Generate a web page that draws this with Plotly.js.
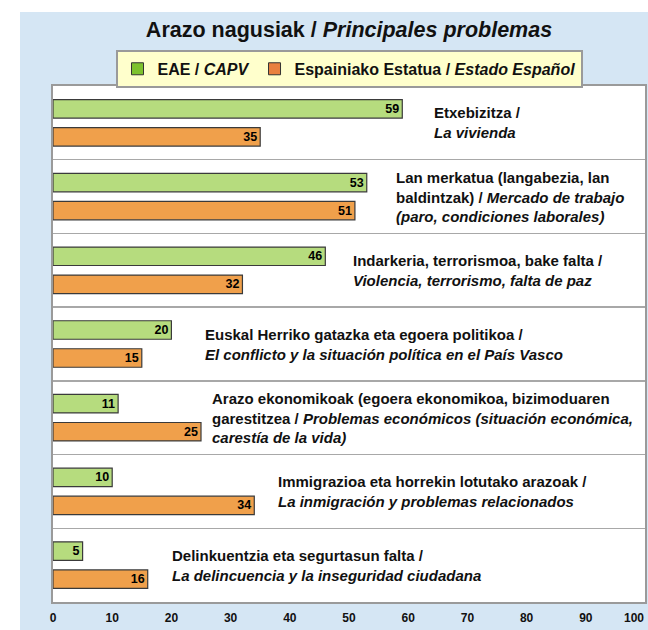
<!DOCTYPE html>
<html>
<head>
<meta charset="utf-8">
<script src="https://cdn.plot.ly/plotly-3.0.1.min.js"></script>
<style>
  html, body { margin: 0; padding: 0; background: #ffffff; }
  #chart { position: absolute; left: 20px; top: 12px; width: 628px; height: 618px; }
</style>
</head>
<body>
<div id="chart"></div>
<script>
// ---- data ----
const categories = [
  "Etxebizitza /<br><i>La vivienda</i>",
  "Lan merkatua (langabezia, lan<br>baldintzak) / <i>Mercado de trabajo</i><br><i>(paro, condiciones laborales)</i>",
  "Indarkeria, terrorismoa, bake falta /<br><i>Violencia, terrorismo, falta de paz</i>",
  "Euskal Herriko gatazka eta egoera politikoa /<br><i>El conflicto y la situación política en el País Vasco</i>",
  "Arazo ekonomikoak (egoera ekonomikoa, bizimoduaren<br>garestitzea / <i>Problemas económicos (situación económica,</i><br><i>carestía de la vida)</i>",
  "Immigrazioa eta horrekin lotutako arazoak /<br><i>La inmigración y problemas relacionados</i>",
  "Delinkuentzia eta segurtasun falta /<br><i>La delincuencia y la inseguridad ciudadana</i>"
];
const eaeValues    = [59, 53, 46, 20, 11, 10, 5];
const estadoValues = [35, 51, 32, 15, 25, 34, 16];
const seriesNames  = ["EAE / <i>CAPV</i>", "Espainiako Estatua / <i>Estado Español</i>"];
const tickLabels   = ["0","10","20","30","40","50","60","70","80","90","100"];

// ---- layout helpers (label placement, not data) ----
const labelX = [64.0, 57.6, 50.4, 25.3, 26.5, 37.6, 19.7];

const FONT = "Liberation Sans, Arial, sans-serif";
const idx = categories.map((c, i) => i);

const barCommon = {
  type: "bar",
  orientation: "h",
  y: idx,
  textposition: "inside",
  insidetextanchor: "end",
  textangle: 0,
  texttemplate: "%{x}",
  textfont: { family: FONT, size: 12.5, color: "#000000", weight: 700 },
  constraintext: "none",
  showlegend: false,
  hoverinfo: "x"
};

const traces = [
  Object.assign({}, barCommon, {
    x: eaeValues, name: seriesNames[0],
    marker: { color: "#B6DC7E", line: { color: "#3a3a3a", width: 1.2 } }
  }),
  Object.assign({}, barCommon, {
    x: estadoValues, name: seriesNames[1],
    marker: { color: "#F0A04B", line: { color: "#3a3a3a", width: 1.2 } }
  }),
  // legend swatches
  { type: "scatter", mode: "markers", x: [null], y: [null], name: seriesNames[0],
    marker: { symbol: "square", size: 12, color: "#7DC22E", line: { color: "#333", width: 1 } } },
  { type: "scatter", mode: "markers", x: [null], y: [null], name: seriesNames[1],
    marker: { symbol: "square", size: 12, color: "#E9803F", line: { color: "#333", width: 1 } } }
];

const annotations = categories.map((c, i) => ({
  x: labelX[i], y: i, xref: "x", yref: "y",
  text: c, showarrow: false, xanchor: "left", yanchor: "middle", align: "left",
  font: { family: FONT, size: 15, color: "#111111", weight: 700 }
}));

// last tick label ("100") kept inside the page, right-aligned at its tick
const tickFont = { family: FONT, size: 12, color: "#111111", weight: 700 };
const lastTick = tickLabels[tickLabels.length - 1];
annotations.push({
  x: Number(lastTick), xref: "x", y: 0, yref: "paper",
  text: lastTick, showarrow: false, xanchor: "right", yanchor: "top",
  xshift: 1, yshift: -7, font: tickFont
});

const layout = {
  width: 628, height: 618,
  paper_bgcolor: "#D5E6F4",
  plot_bgcolor: "#FFFFFF",
  margin: { l: 33, r: 3, t: 74, b: 28 },
  font: { family: FONT, weight: 700 },
  title: {
    text: "Arazo nagusiak / <i>Principales problemas</i>",
    font: { family: FONT, size: 21.5, color: "#111111", weight: 700 },
    xref: "paper", x: 0.5, xanchor: "center",
    yref: "container", y: 0.971, yanchor: "middle"
  },
  barmode: "group",
  bargap: 0.24,
  bargroupgap: 0.34,
  xaxis: {
    range: [0, 100],
    tickvals: tickLabels.slice(0, -1).map(Number),
    ticktext: tickLabels.slice(0, -1),
    tickfont: tickFont,
    ticks: "outside", ticklen: 4, tickcolor: "rgba(0,0,0,0)",
    showgrid: false, zeroline: false,
    showline: true, linecolor: "#9A9A9A", linewidth: 2, mirror: true,
    fixedrange: true
  },
  yaxis: {
    range: [6.5, -0.5],
    tick0: 0.5, dtick: 1,
    showticklabels: false, ticks: "",
    showgrid: true, gridcolor: "#A8A8A8", gridwidth: 1.5,
    zeroline: false,
    showline: true, linecolor: "#9A9A9A", linewidth: 2, mirror: true,
    fixedrange: true
  },
  showlegend: true,
  legend: {
    orientation: "h",
    x: 0.5, xanchor: "center",
    y: 1.07, yanchor: "top",
    bgcolor: "#FFFFCC",
    bordercolor: "#9A9A9A", borderwidth: 2,
    font: { family: FONT, size: 16, color: "#111111", weight: 700 },
    itemclick: false, itemdoubleclick: false
  },
  annotations: annotations
};

Plotly.newPlot("chart", traces, layout, { displayModeBar: false, staticPlot: true });
</script>
</body>
</html>
